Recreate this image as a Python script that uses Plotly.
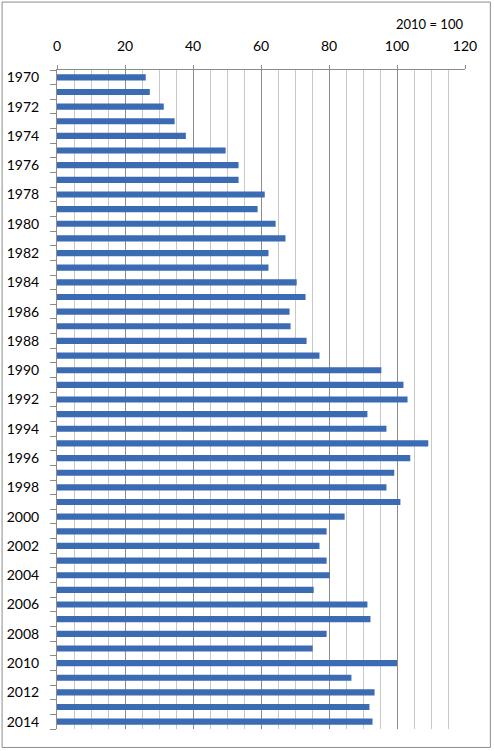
import plotly.graph_objects as go

# Index values (2010 = 100)
years = list(range(1970, 2015))
index_values = [
    26.1, 27.3, 31.4, 34.6, 37.9, 49.6, 53.4, 53.4, 61.1, 59.0,
    64.3, 67.2, 62.2, 62.2, 70.5, 73.1, 68.4, 68.7, 73.4, 77.2,
    95.4, 101.9, 103.1, 91.3, 96.9, 109.2, 103.9, 99.2, 96.9, 101.0,
    84.6, 79.3, 77.2, 79.3, 80.2, 75.5, 91.3, 92.2, 79.3, 75.2,
    100.0, 86.6, 93.4, 91.9, 92.8,
]
year_labels = list(range(1970, 2015, 2))
x_ticks = [0, 20, 40, 60, 80, 100, 120]

fig = go.Figure()
fig.add_trace(go.Bar(
    x=index_values,
    y=years,
    orientation='h',
    marker=dict(color='#3A6BB3', line=dict(width=0)),
    width=0.42,
))

fig.update_layout(
    width=494,
    height=751,
    margin=dict(l=57, r=29, t=70, b=22),
    paper_bgcolor='white',
    plot_bgcolor='white',
    showlegend=False,
    font=dict(family='Lato, Open Sans, sans-serif', size=14, color='#000000'),
    annotations=[dict(
        text='2010 = 100', xref='paper', yref='paper',
        x=1.0, y=1.0, yshift=46, xanchor='right', yanchor='middle',
        showarrow=False, font=dict(size=13),
    )],
    shapes=[dict(
        type='rect', xref='paper', yref='paper',
        x0=-0.1346, x1=1.0622, y0=-0.028, y1=1.1031,
        line=dict(color='#8C8C8C', width=1),
    )],
)

fig.update_xaxes(
    side='top',
    range=[0, 120],
    tickvals=x_ticks,
    ticks='outside', ticklen=4, tickcolor='#8C8C8C',
    ticklabelstandoff=8,
    automargin=False,
    showline=True, linecolor='#8C8C8C', linewidth=1,
    showgrid=True, gridcolor='#8C8C8C', gridwidth=1,
    minor=dict(dtick=5, showgrid=True, gridcolor='#C8C8C8', gridwidth=1),
    zeroline=False,
)

fig.update_yaxes(
    range=[2014.5, 1969.5],
    tickvals=year_labels,
    ticks='', ticklabelstandoff=14,
    automargin=False,
    showline=True, linecolor='#8C8C8C', linewidth=1,
    showgrid=False, zeroline=False,
    minor=dict(tickvals=[y - 0.5 for y in years] + [2014.5],
               ticks='outside', ticklen=6, tickcolor='#8C8C8C', showgrid=False),
)

# body margin would push the fixed-size figure off the window
fig.write_html("out.html", config={'displayModeBar': False},
               post_script="document.body.style.margin='0';")
